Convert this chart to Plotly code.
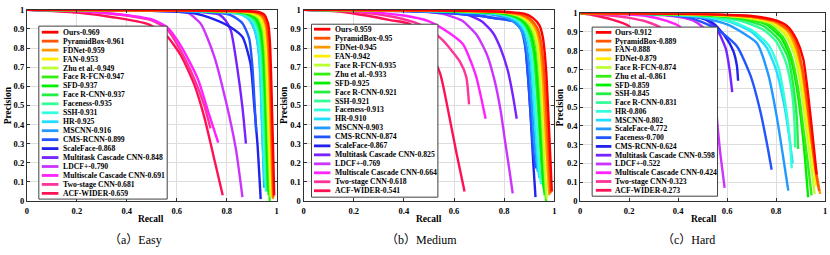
import plotly.graph_objects as go

# ---------------- data ----------------
easy_methods = ["Ours", "PyramidBox", "FDNet", "FAN", "Zhu et al.", "Face R-FCN", "SFD", "Face R-CNN",
                "Faceness", "SSH", "HR", "MSCNN", "CMS-RCNN", "ScaleFace", "Multitask Cascade CNN",
                "LDCF+", "Multiscale Cascade CNN", "Two-stage CNN", "ACF-WIDER"]
easy_ap = ["0.969", "0.961", "0.959", "0.953", "0.949", "0.947", "0.937", "0.937", "0.935", "0.931",
           "0.925", "0.916", "0.899", "0.868", "0.848", "0.790", "0.691", "0.681", "0.659"]

medium_methods = ["Ours", "PyramidBox", "FDNet", "FAN", "Face R-FCN", "Zhu et al.", "SFD", "Face R-CNN",
                  "SSH", "Faceness", "HR", "MSCNN", "CMS-RCNN", "ScaleFace", "Multitask Cascade CNN",
                  "LDCF+", "Multiscale Cascade CNN", "Two-stage CNN", "ACF-WIDER"]
medium_ap = ["0.959", "0.95", "0.945", "0.942", "0.935", "0.933", "0.925", "0.921", "0.921", "0.913",
             "0.910", "0.903", "0.874", "0.867", "0.825", "0.769", "0.664", "0.618", "0.541"]

hard_methods = ["Ours", "PyramidBox", "FAN", "FDNet", "Face R-FCN", "Zhu et al.", "SFD", "SSH",
                "Face R-CNN", "HR", "MSCNN", "ScaleFace", "Faceness", "CMS-RCNN", "Multitask Cascade CNN",
                "LDCF+", "Multiscale Cascade CNN", "Two-stage CNN", "ACF-WIDER"]
hard_ap = ["0.912", "0.889", "0.888", "0.879", "0.874", "0.861", "0.859", "0.845", "0.831", "0.806",
           "0.802", "0.772", "0.700", "0.624", "0.598", "0.522", "0.424", "0.323", "0.273"]

# recall / precision samples, in legend order
easy_recall = [
    [0, 0.6, 0.88, 0.923, 0.95, 0.966, 0.973, 0.978, 0.983, 0.987, 0.99],
    [0, 0.6, 0.87, 0.915, 0.943, 0.96, 0.968, 0.974, 0.979, 0.983, 0.987],
    [0, 0.6, 0.865, 0.912, 0.94, 0.957, 0.965, 0.971, 0.976, 0.98, 0.985],
    [0, 0.6, 0.86, 0.905, 0.933, 0.951, 0.96, 0.966, 0.971, 0.976, 0.98],
    [0, 0.6, 0.855, 0.9, 0.928, 0.946, 0.955, 0.961, 0.966, 0.971, 0.976],
    [0, 0.6, 0.85, 0.897, 0.925, 0.943, 0.952, 0.958, 0.963, 0.968, 0.972],
    [0, 0.6, 0.845, 0.89, 0.918, 0.936, 0.946, 0.953, 0.958, 0.963, 0.968],
    [0, 0.6, 0.84, 0.887, 0.915, 0.934, 0.944, 0.951, 0.956, 0.961, 0.965],
    [0, 0.6, 0.835, 0.883, 0.911, 0.93, 0.94, 0.947, 0.952, 0.957, 0.962],
    [0, 0.6, 0.83, 0.878, 0.906, 0.925, 0.935, 0.942, 0.947, 0.952, 0.957],
    [0, 0.6, 0.82, 0.87, 0.898, 0.918, 0.929, 0.936, 0.941, 0.947, 0.953],
    [0, 0.6, 0.8, 0.876, 0.91, 0.93, 0.937, 0.943, 0.947, 0.95],
    [0, 0.6, 0.76, 0.82, 0.863, 0.89, 0.903, 0.912, 0.918],
    [0, 0.5, 0.664, 0.75, 0.817, 0.863, 0.895, 0.91, 0.923, 0.936],
    [0, 0.6, 0.72, 0.77, 0.795, 0.817, 0.843, 0.863, 0.877],
    [0, 0.5, 0.6, 0.644, 0.697, 0.75, 0.797, 0.837, 0.863],
    [0, 0.25, 0.4, 0.5, 0.56, 0.617, 0.684, 0.73, 0.766],
    [0, 0.25, 0.4, 0.5, 0.56, 0.61, 0.67, 0.71, 0.735],
    [0, 0.2, 0.35, 0.485, 0.558, 0.617, 0.67, 0.71, 0.75, 0.784],
]
easy_precision = [
    [1, 0.998, 0.993, 0.99, 0.975, 0.925, 0.83, 0.65, 0.4, 0.2, 0.03],
    [1, 0.998, 0.992, 0.987, 0.97, 0.92, 0.82, 0.64, 0.4, 0.2, 0.02],
    [1, 0.998, 0.991, 0.985, 0.967, 0.915, 0.81, 0.63, 0.4, 0.2, 0.01],
    [1, 0.997, 0.99, 0.982, 0.962, 0.905, 0.8, 0.62, 0.4, 0.2, 0.03],
    [1, 0.997, 0.989, 0.98, 0.958, 0.9, 0.79, 0.61, 0.4, 0.2, 0.02],
    [1, 0.997, 0.989, 0.978, 0.955, 0.895, 0.785, 0.6, 0.4, 0.2, 0.0],
    [1, 0.996, 0.988, 0.975, 0.95, 0.89, 0.78, 0.6, 0.4, 0.2, 0.03],
    [1, 0.996, 0.988, 0.974, 0.948, 0.887, 0.775, 0.6, 0.4, 0.2, 0.05],
    [1, 0.996, 0.987, 0.972, 0.944, 0.88, 0.77, 0.6, 0.4, 0.2, 0.06],
    [1, 0.995, 0.986, 0.97, 0.94, 0.875, 0.765, 0.6, 0.4, 0.2, 0.05],
    [1, 0.995, 0.985, 0.968, 0.935, 0.87, 0.76, 0.6, 0.4, 0.2, 0.08],
    [1, 0.994, 0.985, 0.972, 0.9, 0.77, 0.6, 0.36, 0.2, 0.07],
    [1, 0.995, 0.985, 0.97, 0.93, 0.85, 0.7, 0.5, 0.36],
    [1, 0.995, 0.983, 0.95, 0.908, 0.858, 0.72, 0.5, 0.3, 0.01],
    [1, 0.995, 0.985, 0.975, 0.945, 0.89, 0.69, 0.49, 0.3],
    [1, 0.995, 0.99, 0.985, 0.925, 0.757, 0.52, 0.27, 0.02],
    [1, 0.99, 0.972, 0.95, 0.91, 0.81, 0.64, 0.45, 0.305],
    [1, 0.99, 0.97, 0.945, 0.9, 0.8, 0.64, 0.5, 0.38],
    [1, 0.985, 0.96, 0.925, 0.866, 0.76, 0.61, 0.44, 0.22, 0.03],
]

medium_recall = [
    [0, 0.5, 0.8, 0.88, 0.914, 0.94, 0.954, 0.967, 0.978, 0.985, 0.99],
    [0, 0.5, 0.8, 0.87, 0.905, 0.93, 0.946, 0.96, 0.972, 0.98, 0.985],
    [0, 0.5, 0.8, 0.865, 0.9, 0.925, 0.941, 0.955, 0.966, 0.975, 0.98],
    [0, 0.5, 0.8, 0.86, 0.897, 0.922, 0.938, 0.952, 0.963, 0.972, 0.978],
    [0, 0.5, 0.8, 0.855, 0.89, 0.915, 0.932, 0.945, 0.956, 0.964, 0.97],
    [0, 0.5, 0.8, 0.852, 0.887, 0.912, 0.929, 0.942, 0.953, 0.961, 0.967],
    [0, 0.5, 0.78, 0.845, 0.88, 0.905, 0.922, 0.936, 0.947, 0.956, 0.962],
    [0, 0.5, 0.78, 0.84, 0.877, 0.9, 0.918, 0.932, 0.944, 0.953, 0.96],
    [0, 0.5, 0.78, 0.842, 0.878, 0.902, 0.919, 0.933, 0.945, 0.955, 0.962],
    [0, 0.5, 0.77, 0.835, 0.87, 0.893, 0.91, 0.923, 0.934, 0.942, 0.947],
    [0, 0.5, 0.77, 0.83, 0.866, 0.89, 0.906, 0.918, 0.928, 0.936, 0.94],
    [0, 0.5, 0.75, 0.82, 0.858, 0.882, 0.898, 0.91, 0.92, 0.93, 0.934],
    [0, 0.5, 0.7, 0.768, 0.834, 0.866, 0.885, 0.897, 0.907, 0.917, 0.926],
    [0, 0.5, 0.7, 0.768, 0.834, 0.874, 0.894, 0.907, 0.916, 0.925],
    [0, 0.5, 0.65, 0.71, 0.755, 0.785, 0.815, 0.835, 0.85],
    [0, 0.4, 0.55, 0.63, 0.69, 0.73, 0.76, 0.785, 0.805, 0.82, 0.834],
    [0, 0.2, 0.4, 0.5, 0.58, 0.636, 0.67, 0.689, 0.71, 0.726],
    [0, 0.2, 0.35, 0.44, 0.5, 0.556, 0.623, 0.649, 0.66],
    [0, 0.15, 0.25, 0.35, 0.424, 0.49, 0.545, 0.58, 0.61, 0.642],
]
medium_precision = [
    [1, 0.998, 0.99, 0.98, 0.958, 0.92, 0.858, 0.69, 0.4, 0.2, 0.05],
    [1, 0.997, 0.988, 0.975, 0.95, 0.91, 0.84, 0.66, 0.38, 0.18, 0.04],
    [1, 0.997, 0.987, 0.973, 0.948, 0.905, 0.83, 0.64, 0.36, 0.15, 0.03],
    [1, 0.997, 0.986, 0.972, 0.945, 0.9, 0.82, 0.62, 0.35, 0.15, 0.05],
    [1, 0.996, 0.985, 0.97, 0.94, 0.89, 0.8, 0.6, 0.33, 0.12, 0.01],
    [1, 0.996, 0.984, 0.968, 0.938, 0.886, 0.795, 0.59, 0.32, 0.12, 0.0],
    [1, 0.995, 0.983, 0.965, 0.935, 0.88, 0.78, 0.56, 0.3, 0.1, 0.03],
    [1, 0.995, 0.982, 0.963, 0.932, 0.875, 0.77, 0.55, 0.3, 0.12, 0.05],
    [1, 0.995, 0.982, 0.962, 0.93, 0.872, 0.765, 0.54, 0.3, 0.12, 0.06],
    [1, 0.994, 0.98, 0.96, 0.925, 0.865, 0.75, 0.52, 0.3, 0.15, 0.087],
    [1, 0.994, 0.978, 0.957, 0.92, 0.86, 0.74, 0.52, 0.32, 0.17, 0.12],
    [1, 0.993, 0.975, 0.953, 0.915, 0.85, 0.73, 0.52, 0.32, 0.2, 0.154],
    [1, 0.99, 0.97, 0.955, 0.94, 0.9, 0.8, 0.62, 0.42, 0.25, 0.17],
    [1, 0.99, 0.968, 0.955, 0.945, 0.89, 0.665, 0.413, 0.2, 0.02],
    [1, 0.995, 0.975, 0.94, 0.88, 0.8, 0.68, 0.55, 0.43],
    [1, 0.995, 0.98, 0.945, 0.87, 0.77, 0.64, 0.48, 0.3, 0.17, 0.04],
    [1, 0.995, 0.97, 0.94, 0.88, 0.82, 0.72, 0.648, 0.53, 0.43],
    [1, 0.99, 0.965, 0.935, 0.9, 0.84, 0.73, 0.648, 0.505],
    [1, 0.99, 0.97, 0.945, 0.925, 0.82, 0.665, 0.45, 0.25, 0.05],
]

hard_recall = [
    [0, 0.5, 0.7, 0.803, 0.85, 0.884, 0.911, 0.931, 0.951, 0.966],
    [0, 0.5, 0.7, 0.8, 0.855, 0.885, 0.905, 0.925, 0.945, 0.962, 0.976],
    [0, 0.5, 0.7, 0.8, 0.85, 0.88, 0.905, 0.925, 0.945, 0.965, 0.98],
    [0, 0.5, 0.68, 0.79, 0.845, 0.88, 0.905, 0.925, 0.945, 0.965],
    [0, 0.5, 0.68, 0.78, 0.84, 0.875, 0.9, 0.92, 0.94, 0.958],
    [0, 0.5, 0.65, 0.77, 0.83, 0.865, 0.89, 0.91, 0.93, 0.945],
    [0, 0.5, 0.65, 0.76, 0.82, 0.86, 0.885, 0.905, 0.92, 0.931],
    [0, 0.5, 0.65, 0.75, 0.81, 0.85, 0.872, 0.885, 0.89],
    [0, 0.3, 0.5, 0.65, 0.75, 0.8, 0.84, 0.865, 0.875, 0.878],
    [0, 0.3, 0.5, 0.62, 0.7, 0.77, 0.81, 0.84, 0.856, 0.864],
    [0, 0.3, 0.5, 0.62, 0.7, 0.76, 0.8, 0.835, 0.855, 0.868],
    [0, 0.3, 0.5, 0.6, 0.67, 0.722, 0.769, 0.803, 0.83, 0.85],
    [0, 0.3, 0.45, 0.52, 0.56, 0.64, 0.695, 0.735, 0.762, 0.782],
    [0, 0.35, 0.47, 0.54, 0.59, 0.625, 0.64, 0.645],
    [0, 0.3, 0.45, 0.51, 0.56, 0.595, 0.61, 0.621],
    [0, 0.25, 0.4, 0.47, 0.52, 0.545, 0.555, 0.57, 0.59],
    [0, 0.15, 0.27, 0.35, 0.41, 0.45, 0.475, 0.49, 0.5],
    [0, 0.1, 0.2, 0.27, 0.33, 0.37, 0.39, 0.4],
    [0, 0.05, 0.13, 0.198, 0.24, 0.27, 0.29, 0.3],
]
hard_precision = [
    [1, 0.995, 0.985, 0.96, 0.926, 0.858, 0.756, 0.568, 0.328, 0.14],
    [1, 0.995, 0.98, 0.955, 0.905, 0.83, 0.72, 0.55, 0.33, 0.16, 0.055],
    [1, 0.994, 0.98, 0.95, 0.9, 0.82, 0.7, 0.52, 0.32, 0.15, 0.038],
    [1, 0.993, 0.978, 0.948, 0.885, 0.79, 0.64, 0.44, 0.25, 0.08],
    [1, 0.992, 0.975, 0.945, 0.88, 0.78, 0.62, 0.42, 0.22, 0.038],
    [1, 0.99, 0.975, 0.94, 0.87, 0.76, 0.6, 0.4, 0.2, 0.03],
    [1, 0.99, 0.975, 0.94, 0.87, 0.76, 0.6, 0.4, 0.2, 0.02],
    [1, 0.99, 0.97, 0.93, 0.86, 0.76, 0.6, 0.44, 0.277],
    [1, 0.997, 0.985, 0.96, 0.91, 0.85, 0.74, 0.58, 0.43, 0.285],
    [1, 0.995, 0.985, 0.955, 0.91, 0.83, 0.71, 0.5, 0.33, 0.174],
    [1, 0.995, 0.98, 0.95, 0.9, 0.82, 0.7, 0.5, 0.33, 0.2],
    [1, 0.995, 0.975, 0.94, 0.89, 0.84, 0.67, 0.448, 0.226, 0.055],
    [1, 0.995, 0.975, 0.94, 0.915, 0.824, 0.67, 0.482, 0.311, 0.166],
    [1, 0.995, 0.98, 0.95, 0.88, 0.8, 0.72, 0.64],
    [1, 0.995, 0.985, 0.97, 0.91, 0.81, 0.7, 0.58],
    [1, 0.995, 0.98, 0.955, 0.9, 0.75, 0.5, 0.28, 0.07],
    [1, 0.995, 0.985, 0.96, 0.925, 0.8, 0.6, 0.35, 0.12],
    [1, 0.99, 0.975, 0.955, 0.92, 0.75, 0.5, 0.2],
    [1, 0.99, 0.966, 0.932, 0.85, 0.65, 0.4, 0.15],
]

subtitles = ["（a）Easy", "（b）Medium", "（c）Hard"]
x_ticks = [0, 0.2, 0.4, 0.6, 0.8, 1]
y_ticks = [0, 0.1, 0.2, 0.3, 0.4, 0.5, 0.6, 0.7, 0.8, 0.9, 1]

# ---------------- styles ----------------
colors = ["#ff0000", "#ff5500", "#ff9900", "#ffee00", "#bbff33", "#33ee11", "#00ee00", "#22ee44",
          "#33ff99", "#33ffdd", "#22ddff", "#2299ff", "#2255ff", "#2222ee", "#7722ff", "#cc33ff",
          "#ff22ff", "#ff3399", "#ff1155"]

W, H = 830, 255
SERIF = "Liberation Serif, Times New Roman, serif"


def fx(p):
    return p / W


def fy(p):
    return 1 - p / H


panels = [
    dict(methods=easy_methods, ap=easy_ap, rec=easy_recall, prec=easy_precision,
         plot=(25, 5, 276, 204), box=(37, 22, 166, 202), ry0=28.3, rdy=9.32,
         lx=(40, 56.7), tx=59, ylab_x=6, xlab_x=150, sub_x=134),
    dict(methods=medium_methods, ap=medium_ap, rec=medium_recall, prec=medium_precision,
         plot=(303, 5, 555, 204), box=(311, 20, 438, 200), ry0=25.2, rdy=9.34,
         lx=(313.5, 330), tx=332.3, ylab_x=284, xlab_x=429.5, sub_x=422),
    dict(methods=hard_methods, ap=hard_ap, rec=hard_recall, prec=hard_precision,
         plot=(581, 8.5, 827, 204), box=(593, 23, 719, 199), ry0=28.5, rdy=9.13,
         lx=(596.7, 612.3), tx=614.3, ylab_x=561, xlab_x=705.5, sub_x=690),
]

fig = go.Figure()
shapes = []
annotations = []
layout_axes = {}

for i, pn in enumerate(panels):
    xa = "x" if i == 0 else f"x{i+1}"
    ya = "y" if i == 0 else f"y{i+1}"
    x0, y0, x1, y1 = pn["plot"]
    for k in reversed(range(len(pn["methods"]))):
        fig.add_trace(go.Scatter(
            x=pn["rec"][k], y=pn["prec"][k], mode="lines",
            line=dict(color=colors[k], width=2.4, shape="spline", smoothing=0.6),
            xaxis=xa, yaxis=ya, showlegend=False, hoverinfo="skip"))
    axis_common = dict(range=[0, 1], showgrid=True, gridcolor="#dedede", gridwidth=1,
                       showline=True, linecolor="#303030", linewidth=1, mirror="ticks",
                       ticks="inside", ticklen=3, tickcolor="#303030", zeroline=False,
                       tickfont=dict(family=SERIF, size=8.5, color="black", weight="bold"))
    layout_axes["xaxis" if i == 0 else f"xaxis{i+1}"] = dict(
        domain=[fx(x0), fx(x1)], anchor=ya, tickvals=x_ticks, ticklabelstandoff=2, **axis_common)
    layout_axes["yaxis" if i == 0 else f"yaxis{i+1}"] = dict(
        domain=[fy(y1), fy(y0)], anchor=xa, tickvals=y_ticks, **axis_common)

    # legend box
    bx0, by0, bx1, by1 = pn["box"]
    shapes.append(dict(type="rect", xref="paper", yref="paper",
                       x0=fx(bx0), x1=fx(bx1), y0=fy(by1), y1=fy(by0),
                       fillcolor="white", line=dict(color="#404040", width=1), layer="above"))
    for k, (m, a) in enumerate(zip(pn["methods"], pn["ap"])):
        ry = pn["ry0"] + k * pn["rdy"]
        shapes.append(dict(type="line", xref="paper", yref="paper",
                           x0=fx(pn["lx"][0]), x1=fx(pn["lx"][1]), y0=fy(ry), y1=fy(ry),
                           line=dict(color=colors[k], width=2.8), layer="above"))
        annotations.append(dict(text=f"{m}-{a}", xref="paper", yref="paper",
                                x=fx(pn["tx"]), y=fy(ry), xanchor="left", yanchor="middle",
                                showarrow=False,
                                font=dict(family=SERIF, size=7.7, color="black", weight="bold")))
    # axis titles
    annotations.append(dict(text="Recall", xref="paper", yref="paper", x=fx(pn["xlab_x"]), y=fy(222.5),
                            xanchor="center", yanchor="middle", showarrow=False,
                            font=dict(family=SERIF, size=9.5, color="black", weight="bold")))
    annotations.append(dict(text="Precision", xref="paper", yref="paper", x=fx(pn["ylab_x"]),
                            y=fy((y0 + y1) / 2), xanchor="center", yanchor="middle", textangle=-90,
                            showarrow=False,
                            font=dict(family=SERIF, size=9.5, color="black", weight="bold")))
    annotations.append(dict(text=subtitles[i], xref="paper", yref="paper", x=fx(pn["sub_x"]), y=fy(245),
                            xanchor="center", yanchor="middle", showarrow=False,
                            font=dict(family="Liberation Serif, Noto Sans CJK SC, serif", size=12,
                                      color="black")))

fig.update_layout(width=W, height=H, margin=dict(l=0, r=0, t=0, b=0),
                  paper_bgcolor="white", plot_bgcolor="white",
                  shapes=shapes, annotations=annotations, **layout_axes)

fig.write_html("out.html", config={"displayModeBar": False},
               post_script="document.body.style.margin='0';document.body.style.overflow='hidden';")
